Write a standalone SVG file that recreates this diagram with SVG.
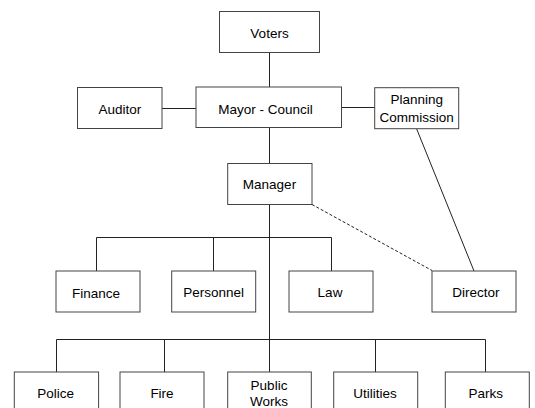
<svg xmlns="http://www.w3.org/2000/svg" width="535" height="408" viewBox="0 0 535 408">
<style>
.box{fill:#fff;stroke:#444;stroke-width:1}
.t{font-family:"Liberation Sans",Arial,sans-serif;font-size:13.5px;fill:#000;text-anchor:middle}
.c{fill:none;stroke:#222;stroke-width:1}
.d{fill:none;stroke:#222;stroke-width:1;stroke-dasharray:3,2}
</style>
<rect width="535" height="408" fill="#fff"/>
<g id="connectors">
<path class="c" d="M269.5 52.5V87.5"/>
<path class="c" d="M162 108.5H196"/>
<path class="c" d="M341.5 107.5H375"/>
<path class="c" d="M416.7 129L474 271"/>
<path class="c" d="M269.5 127.5V163.5"/>
<path class="d" d="M312 204.5L432 270.5"/>
<path class="c" d="M269.5 204.5V372"/>
<path class="c" d="M96.5 271V237.5H331.5V271M213.5 237.5V271"/>
<path class="c" d="M56.5 372V339.5H485.5V372M164.5 339.5V372M375.5 339.5V372"/>
</g>
<g id="voters"><rect class="box" x="219.5" y="11.5" width="100" height="41"/><text class="t" x="269.5" y="37.5">Voters</text></g>
<g id="auditor"><rect class="box" x="77.5" y="87.5" width="84.5" height="41"/><text class="t" x="119.8" y="113.7">Auditor</text></g>
<g id="mayor-council"><rect class="box" x="196" y="87" width="145.5" height="40.5"/><text class="t" x="265.5" y="114">Mayor - Council</text></g>
<g id="planning-commission"><rect class="box" x="374.7" y="87.7" width="84" height="41"/><text class="t" x="416.7" y="104">Planning</text><text class="t" x="416.7" y="121.5">Commission</text></g>
<g id="manager"><rect class="box" x="227.7" y="163.5" width="84.3" height="41"/><text class="t" x="269.5" y="189.3">Manager</text></g>
<g id="finance"><rect class="box" x="56" y="271" width="84" height="41"/><text class="t" x="96" y="298.3">Finance</text></g>
<g id="personnel"><rect class="box" x="171.7" y="271" width="84" height="41"/><text class="t" x="213.7" y="296.7">Personnel</text></g>
<g id="law"><rect class="box" x="289" y="271" width="84" height="41"/><text class="t" x="330" y="296.7">Law</text></g>
<g id="director"><rect class="box" x="432" y="271" width="84" height="41"/><text class="t" x="476" y="296.7">Director</text></g>
<g id="police"><rect class="box" x="14.3" y="372" width="84.3" height="42"/><text class="t" x="55.7" y="398.3">Police</text></g>
<g id="fire"><rect class="box" x="120" y="372" width="84" height="42"/><text class="t" x="162" y="398.3">Fire</text></g>
<g id="public-works"><rect class="box" x="227.7" y="372" width="83.6" height="42"/><text class="t" x="269" y="390">Public</text><text class="t" x="269" y="406">Works</text></g>
<g id="utilities"><rect class="box" x="333.7" y="372" width="84" height="42"/><text class="t" x="375" y="398">Utilities</text></g>
<g id="parks"><rect class="box" x="445.3" y="372" width="84" height="42"/><text class="t" x="485.7" y="398">Parks</text></g>
</svg>
